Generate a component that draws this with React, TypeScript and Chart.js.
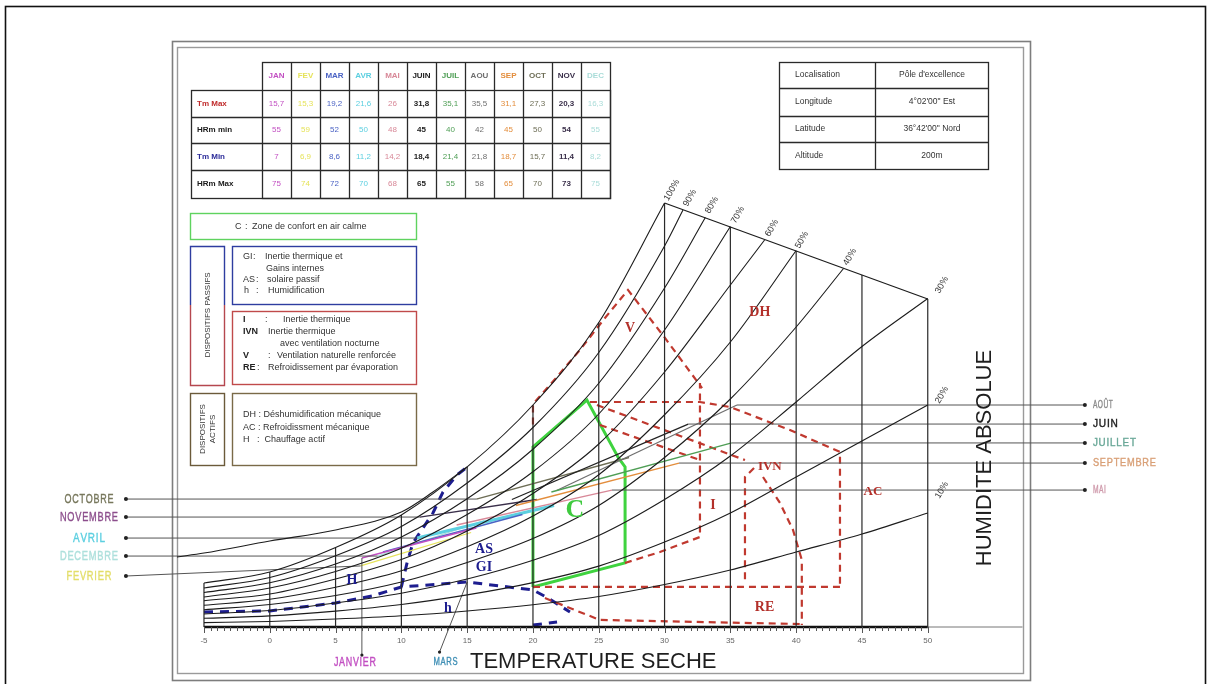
import React, { useEffect, useRef } from 'react';
import { Chart, registerables } from 'chart.js';

Chart.register(...registerables);

// ---------- axis / psychrometric grid ----------
const TEMP_TICKS = [-5, 0, 5, 10, 15, 20, 25, 30, 35, 40, 45, 50];
const CURVE_TEMPS = [-5, 0, 5, 10, 15, 20, 25, 30, 35, 40, 45, 50];
const RH_LABELS = ['100%', '90%', '80%', '70%', '60%', '50%', '40%', '30%', '20%', '10%'];
const RH_100 = [2.93, 3.67, 5.3, 7.47, 10.67, 14.8, 20.3, 28.27];
const RH_90 = [2.6, 3.3, 4.75, 6.7, 9.6, 13.3, 18.3, 25.4];
const RH_80 = [2.3, 2.95, 4.2, 6.0, 8.55, 11.85, 16.25, 22.6];
const RH_70 = [2.0, 2.6, 3.7, 5.25, 7.5, 10.35, 14.2, 19.8];
const RH_60 = [1.75, 2.2, 3.2, 4.5, 6.4, 8.9, 12.2, 17.0, 22.8];
const RH_50 = [1.45, 1.85, 2.65, 3.75, 5.35, 7.4, 10.15, 14.15, 19.0];
const RH_40 = [1.15, 1.5, 2.1, 3.0, 4.3, 5.9, 8.1, 11.3, 15.2, 20.0];
const RH_30 = [0.87, 1.1, 1.6, 2.25, 3.2, 4.45, 6.1, 8.5, 11.4, 15.0, 18.7, 21.9];
const RH_20 = [0.58, 0.74, 1.06, 1.5, 2.14, 2.96, 4.06, 5.66, 7.6, 10.0, 12.4, 14.8];
const RH_10 = [0.29, 0.37, 0.53, 0.75, 1.07, 1.48, 2.03, 2.83, 3.8, 5.0, 6.2, 7.6];
const RH_END_T = [NaN, 31.4, 33.1, 35.0, 37.6, 40.0, 43.6, NaN, NaN, NaN];
const RH_END_W = [NaN, 27.8, 27.3, 26.7, 25.8, 25.1, 23.9, NaN, NaN, NaN];
// outer curve entering from the left frame and joining the saturation curve
const OUTER_T = [-7.05, -5, 0, 5, 10, 12.4, 15];
const OUTER_W = [4.67, 4.93, 5.73, 6.47, 7.67, 9.0, 10.67];
const TOP_T = [30, 50];
const TOP_W = [28.27, 21.87];
const GRID_TOP_W = [2.93, 3.67, 5.3, 7.47, 10.67, 14.8, 20.3, 28.27, 26.67, 25.07, 23.47, 21.87];
const RH_LABEL_T = [30.56, 31.93, 33.6, 35.57, 38.15, 40.43, 44.08, 51.08, 51.08, 51.08];
const RH_LABEL_W = [29.13, 28.6, 28.13, 27.47, 26.6, 25.8, 24.67, 22.8, 15.47, 9.13];

// ---------- climate table ----------
const MONTHS = ['JAN', 'FEV', 'MAR', 'AVR', 'MAI', 'JUIN', 'JUIL', 'AOU', 'SEP', 'OCT', 'NOV', 'DEC'];
const MONTH_NAMES = ['JANVIER', 'FEVRIER', 'MARS', 'AVRIL', 'MAI', 'JUIN', 'JUILLET', 'AOÛT', 'SEPTEMBRE', 'OCTOBRE', 'NOVEMBRE', 'DECEMBRE'];
const MONTH_COLORS = ['#c24fc2', '#e6e35a', '#4b63c4', '#5ccfe0', '#d88898', '#222222', '#4f9e55', '#6f6f6f', '#e38d3c', '#6d6d55', '#3a2f4a', '#a9dcd8'];
const LABEL_COLORS = ['#c24fc2', '#e3de6a', '#3f8fb5', '#5ccfe0', '#cf9aab', '#1c1c1c', '#6aa898', '#8a8a8a', '#d9a077', '#77775c', '#8d4f8d', '#aee0dc'];
const TM_MAX = [15.7, 15.3, 19.2, 21.6, 26, 31.8, 35.1, 35.5, 31.1, 27.3, 20.3, 16.3];
const HR_MIN = [55, 59, 52, 50, 48, 45, 40, 42, 45, 50, 54, 55];
const TM_MIN = [7, 6.9, 8.6, 11.2, 14.2, 18.4, 21.4, 21.8, 18.7, 15.7, 11.4, 8.2];
const HR_MAX = [75, 74, 72, 70, 68, 65, 55, 58, 65, 70, 73, 75];
// absolute humidity read at the two ends of every month segment
const W_START = [4.6, 4.07, 5.0, 5.93, 6.8, 8.5, 9.0, 9.1, 8.1, 8.53, 7.33, 4.73];
const W_END = [6.6, 6.3, 7.5, 8.1, 9.13, 13.53, 12.27, 14.8, 10.93, 11.3, 8.5, 7.1];
// humidity level of the label dots on the left side
const LEFT_DOT_W = [NaN, 3.4, NaN, 5.93, NaN, NaN, NaN, NaN, NaN, 8.53, 7.33, 4.73];
const LABEL_SIDE = ['bottom', 'left', 'bottom', 'left', 'right', 'right', 'right', 'right', 'right', 'left', 'left', 'left'];
const LEFT_DOT_T = -10.93;
const RIGHT_DOT_T = 61.94;
const JAN_DOT_W = -1.87;
const MARS_LINE_T = [12.9, 15.0];
const MARS_LINE_W = [-1.67, 3.0];

// ---------- zones ----------
const COMFORT_T = [20, 20, 24.1, 26.5, 27.0, 27.0, 20];
const COMFORT_W = [2.67, 12.0, 15.13, 11.27, 10.67, 4.27, 2.67];
const V_T = [20, 20, 21.75, 23.57, 25.47, 27.22, 28.51, 30.03, 31.55, 32.85];
const V_W = [13.5, 14.87, 16.6, 18.47, 20.6, 22.47, 21.0, 19.27, 17.47, 15.93];
const I_T = [26.99, 29.65, 32.69, 32.69];
const I_W = [4.27, 5.0, 6.0, 16.27];
const AC_T = [24.33, 32.69, 34.97, 39.53, 43.33, 43.33];
const AC_W = [15.0, 15.0, 14.67, 13.13, 11.67, 2.67];
const ACB_T = [20, 43.33];
const ACB_W = [2.67, 2.67];
const IVN_T = [24.86, 36.11];
const IVN_W = [14.8, 11.13];
const IVN2_T = [25.09, 32.69];
const IVN2_W = [13.47, 11.13];
const IVNR_T = [36.8, 36.11, 36.11];
const IVNR_W = [10.6, 10.0, 2.93];
const RE_T = [37.48, 38.77, 39.76, 40.43, 40.43];
const RE_W = [10.0, 8.27, 6.47, 4.47, 0.13];
const REB_T = [20.91, 23.19, 25.09, 40.27];
const REB_W = [1.93, 1.13, 0.47, 0.2];
const H_T = [-5, 0, 5, 7.77, 10, 15, 20, 21.14, 22.81];
const H_W = [1.0, 1.07, 1.6, 2.07, 2.67, 3.0, 2.47, 1.93, 1.0];
const AS_T = [10, 10.43, 10.88, 12.4, 13.16, 14.22, 14.9];
const AS_W = [2.67, 4.27, 5.6, 7.6, 9.0, 10.13, 10.6];
const HB_T = [20, 21.83];
const HB_W = [0.13, 0.33];

const ZONE_LABELS = ['C', 'DH', 'V', 'IVN', 'AC', 'I', 'RE', 'H', 'AS', 'GI', 'h'];
const ZONE_LABEL_T = [23.19, 37.24, 27.37, 38.0, 45.83, 33.67, 37.6, 6.24, 16.28, 16.28, 13.54];
const ZONE_LABEL_W = [7.8, 21.0, 19.93, 10.67, 9.0, 8.13, 1.33, 3.13, 5.2, 4.0, 1.27];

const RED = '#c0392f';
const BLUE = '#1d1d8f';
const SANS = '"Liberation Sans", Arial, sans-serif';
const SERIF = '"Liberation Serif", "Times New Roman", serif';

const zip = (ts: number[], ws: number[]) => ts.map((t, i) => ({ x: t, y: ws[i] }));

function txt(ctx: any, s: string, x: number, y: number, font: string, color: string, align = 'left') {
  ctx.font = font;
  ctx.fillStyle = color;
  ctx.textAlign = align;
  ctx.textBaseline = 'middle';
  ctx.fillText(s, x, y);
}

function condensed(ctx: any, s: string, x: number, y: number, size: number, width: number, color: string, align: string) {
  ctx.save();
  ctx.font = `${size}px ${SANS}`;
  const spaced = s.split('').join('\u200A');
  const m = ctx.measureText(spaced).width;
  ctx.translate(x, y);
  ctx.scale(width / m, 1);
  ctx.fillStyle = color;
  ctx.strokeStyle = color;
  ctx.lineWidth = 0.4;
  ctx.textAlign = align;
  ctx.textBaseline = 'middle';
  ctx.fillText(spaced, 0, 0);
  ctx.strokeText(spaced, 0, 0);
  ctx.restore();
}

const decor = {
  id: 'decor',
  beforeDraw(chart: any) {
    const ctx = chart.ctx;
    ctx.save();
    ctx.fillStyle = '#ffffff';
    ctx.fillRect(0, 0, chart.width, chart.height);
    ctx.strokeStyle = '#111';
    ctx.lineWidth = 1.6;
    ctx.strokeRect(5.5, 6.5, 1200, 700);
    ctx.strokeStyle = '#7d7d7d';
    ctx.lineWidth = 1.6;
    ctx.strokeRect(172.5, 41.5, 858, 639);
    ctx.strokeStyle = '#9a9a9a';
    ctx.lineWidth = 1.4;
    ctx.strokeRect(177.5, 47.5, 846, 626);
    ctx.restore();
  },
  afterDatasetsDraw(chart: any) {
    const ctx = chart.ctx;
    const xs = chart.scales.x;
    const ys = chart.scales.y;
    const P = (t: number, w: number) => [xs.getPixelForValue(t), ys.getPixelForValue(w)];
    ctx.save();

    // ticks of the temperature ruler
    const [, y0] = P(0, 0);
    ctx.strokeStyle = '#555';
    ctx.lineWidth = 1;
    for (let t = -5; t <= 50.001; t += 0.5) {
      const [x] = P(t, 0);
      const major = Math.abs(t % 5) < 0.01;
      ctx.beginPath();
      ctx.moveTo(Math.round(x) + 0.5, y0);
      ctx.lineTo(Math.round(x) + 0.5, y0 + (major ? 6 : 4));
      ctx.stroke();
    }
    TEMP_TICKS.forEach((t) => {
      const [x, y] = P(t, -0.95);
      txt(ctx, String(t), x, y, `8px ${SANS}`, '#666', 'center');
    });

    // RH labels
    RH_LABELS.forEach((s, i) => {
      const [x, y] = P(RH_LABEL_T[i], RH_LABEL_W[i]);
      ctx.save();
      ctx.translate(x, y);
      ctx.rotate(-Math.PI / 3);
      txt(ctx, s, 0, 0, `9px ${SANS}`, '#333', 'center');
      ctx.restore();
    });

    // zone labels
    ZONE_LABELS.forEach((s, i) => {
      const [x, y] = P(ZONE_LABEL_T[i], ZONE_LABEL_W[i]);
      let font = `bold 14px ${SERIF}`;
      let color = '#b3302a';
      if (s === 'C') { font = `bold 26px ${SERIF}`; color = '#3fca3f'; }
      if (s === 'IVN' || s === 'AC') font = `bold 13px ${SERIF}`;
      if (['H', 'AS', 'GI', 'h'].includes(s)) { color = '#1d1d8f'; font = `bold 14px ${SERIF}`; }
      txt(ctx, s, x, y, font, color, 'center');
    });

    // month labels and dots
    const widths: any = { JANVIER: 42, FEVRIER: 45, MARS: 24, AVRIL: 32, MAI: 13, JUIN: 25, JUILLET: 43, 'AOÛT': 20, SEPTEMBRE: 63, OCTOBRE: 49, NOVEMBRE: 58, DECEMBRE: 58 };
    MONTH_NAMES.forEach((name, i) => {
      const side = LABEL_SIDE[i];
      const col = LABEL_COLORS[i];
      ctx.fillStyle = '#222';
      if (side === 'left') {
        const [x, y] = P(LEFT_DOT_T, LEFT_DOT_W[i]);
        ctx.beginPath(); ctx.arc(x, y, 2, 0, Math.PI * 2); ctx.fill();
        condensed(ctx, name, x - 37, y, 13, widths[name], col, 'center');
      } else if (side === 'right') {
        const [x, y] = P(RIGHT_DOT_T, W_END[i]);
        ctx.beginPath(); ctx.arc(x, y, 2, 0, Math.PI * 2); ctx.fill();
        condensed(ctx, name, x + 8, y, 11, widths[name], col, 'left');
      }
    });
    {
      const [x, y] = P(TM_MIN[0], JAN_DOT_W);
      ctx.fillStyle = '#222';
      ctx.beginPath(); ctx.arc(x, y, 1.6, 0, Math.PI * 2); ctx.fill();
      condensed(ctx, 'JANVIER', x - 7, y + 8, 12, 42, LABEL_COLORS[0], 'center');
      const [mx, my] = P(MARS_LINE_T[0], MARS_LINE_W[0]);
      ctx.fillStyle = '#222';
      ctx.beginPath(); ctx.arc(mx, my, 1.6, 0, Math.PI * 2); ctx.fill();
      condensed(ctx, 'MARS', mx + 6, my + 10, 11, 24, LABEL_COLORS[2], 'center');
    }

    // axis titles
    txt(ctx, 'TEMPERATURE SECHE', 470, 662, `22px ${SANS}`, '#1e1e1e', 'left');
    ctx.save();
    ctx.translate(985, 458);
    ctx.rotate(-Math.PI / 2);
    txt(ctx, 'HUMIDITE ABSOLUE', 0, 0, `22px ${SANS}`, '#1e1e1e', 'center');
    ctx.restore();

    // ---- climate table ----
    const colX0 = 262, colW = 29, rowY = [62, 90, 117, 143, 170, 198];
    ctx.strokeStyle = '#2a2a2a';
    ctx.lineWidth = 1.3;
    ctx.strokeRect(colX0 + 0.5, rowY[0] + 0.5, colW * 12, rowY[5] - rowY[0]);
    ctx.strokeRect(191.5, rowY[1] + 0.5, colX0 + colW * 12 - 191, rowY[5] - rowY[1]);
    for (let c = 1; c < 12; c++) {
      const x = colX0 + c * colW + 0.5;
      ctx.beginPath(); ctx.moveTo(x, rowY[0]); ctx.lineTo(x, rowY[5]); ctx.stroke();
    }
    for (let r = 2; r < 5; r++) {
      ctx.beginPath(); ctx.moveTo(191, rowY[r] + 0.5); ctx.lineTo(colX0 + colW * 12, rowY[r] + 0.5); ctx.stroke();
    }
    const rowNames = ['Tm Max', 'HRm min', 'Tm Min', 'HRm Max'];
    const rowCols = ['#c02b2b', '#1a1a1a', '#2b2b99', '#1a1a1a'];
    const rows = [TM_MAX, HR_MIN, TM_MIN, HR_MAX];
    MONTHS.forEach((m, c) => {
      const cx = colX0 + c * colW + colW / 2;
      txt(ctx, m, cx, (rowY[0] + rowY[1]) / 2, `bold 8px ${SANS}`, MONTH_COLORS[c], 'center');
      rows.forEach((arr, r) => {
        const v = String(arr[c]).replace('.', ',');
        const bold = c === 5 || c === 10 ? 'bold ' : '';
        txt(ctx, v, cx, (rowY[r + 1] + rowY[r + 2]) / 2, `${bold}8px ${SANS}`, MONTH_COLORS[c], 'center');
      });
    });
    rowNames.forEach((s, r) => {
      txt(ctx, s, 197, (rowY[r + 1] + rowY[r + 2]) / 2, `bold 8px ${SANS}`, rowCols[r], 'left');
    });

    // ---- site table ----
    ctx.strokeStyle = '#2a2a2a';
    ctx.lineWidth = 1.3;
    ctx.strokeRect(779.5, 62.5, 209, 107);
    ctx.beginPath(); ctx.moveTo(875.5, 62); ctx.lineTo(875.5, 169); ctx.stroke();
    [88, 116, 142].forEach((y) => { ctx.beginPath(); ctx.moveTo(779, y + 0.5); ctx.lineTo(988, y + 0.5); ctx.stroke(); });
    const siteL = ['Localisation', 'Longitude', 'Latitude', 'Altitude'];
    const siteR = ['Pôle d\'excellence', '4°02\'00" Est', '36°42\'00" Nord', '200m'];
    const siteY = [75, 102, 129, 156];
    siteL.forEach((s, i) => {
      txt(ctx, s, 795, siteY[i], `8.5px ${SANS}`, '#333', 'left');
      txt(ctx, siteR[i], 932, siteY[i], `8.5px ${SANS}`, '#333', 'center');
    });

    // ---- legend boxes ----
    ctx.lineWidth = 1.4;
    ctx.strokeStyle = '#5fd35f';
    ctx.strokeRect(190.5, 213.5, 226, 26);
    txt(ctx, 'C', 235, 227, `9px ${SANS}`, '#333', 'left');
    txt(ctx, ':', 245, 227, `9px ${SANS}`, '#333', 'left');
    txt(ctx, 'Zone de confort en air calme', 252, 227, `9px ${SANS}`, '#333', 'left');

    ctx.strokeStyle = '#2e3da0';
    ctx.beginPath(); ctx.moveTo(190.5, 305); ctx.lineTo(190.5, 246.5); ctx.lineTo(224.5, 246.5); ctx.lineTo(224.5, 305); ctx.stroke();
    ctx.strokeStyle = '#b5474f';
    ctx.beginPath(); ctx.moveTo(190.5, 305); ctx.lineTo(190.5, 385.5); ctx.lineTo(224.5, 385.5); ctx.lineTo(224.5, 305); ctx.stroke();
    ctx.save();
    ctx.translate(208, 315);
    ctx.rotate(-Math.PI / 2);
    txt(ctx, 'DISPOSITIFS PASSIFS', 0, 0, `8px ${SANS}`, '#333', 'center');
    ctx.restore();

    ctx.strokeStyle = '#2e3da0';
    ctx.strokeRect(232.5, 246.5, 184, 58);
    const f9 = `9px ${SANS}`;
    txt(ctx, 'GI', 243, 257, f9, '#333'); txt(ctx, ':', 253, 257, f9, '#333'); txt(ctx, 'Inertie thermique et', 265, 257, f9, '#333');
    txt(ctx, 'Gains internes', 266, 269, f9, '#333');
    txt(ctx, 'AS', 243, 280, f9, '#333'); txt(ctx, ':', 256, 280, f9, '#333'); txt(ctx, 'solaire passif', 267, 280, f9, '#333');
    txt(ctx, 'h', 244, 291, f9, '#333'); txt(ctx, ':', 256, 291, f9, '#333'); txt(ctx, 'Humidification', 268, 291, f9, '#333');

    ctx.strokeStyle = '#c04a4a';
    ctx.strokeRect(232.5, 311.5, 184, 73);
    const b9 = `bold 9px ${SANS}`;
    txt(ctx, 'I', 243, 320, b9, '#222'); txt(ctx, ':', 265, 320, f9, '#333'); txt(ctx, 'Inertie thermique', 283, 320, f9, '#333');
    txt(ctx, 'IVN', 243, 332, b9, '#222'); txt(ctx, 'Inertie thermique', 268, 332, f9, '#333');
    txt(ctx, 'avec ventilation nocturne', 280, 344, f9, '#333');
    txt(ctx, 'V', 243, 356, b9, '#222'); txt(ctx, ':', 268, 356, f9, '#333'); txt(ctx, 'Ventilation naturelle renforcée', 277, 356, f9, '#333');
    txt(ctx, 'RE', 243, 368, b9, '#222'); txt(ctx, ':', 257, 368, f9, '#333'); txt(ctx, 'Refroidissement par évaporation', 268, 368, f9, '#333');

    ctx.strokeStyle = '#6b5a3a';
    ctx.strokeRect(190.5, 393.5, 34, 72);
    ctx.save();
    ctx.translate(203, 429);
    ctx.rotate(-Math.PI / 2);
    txt(ctx, 'DISPOSITIFS', 0, 0, `8px ${SANS}`, '#333', 'center');
    txt(ctx, 'ACTIFS', 0, 10, `8px ${SANS}`, '#333', 'center');
    ctx.restore();
    ctx.strokeStyle = '#7a6a48';
    ctx.strokeRect(232.5, 393.5, 184, 72);
    txt(ctx, 'DH : Déshumidification mécanique', 243, 415, f9, '#333');
    txt(ctx, 'AC : Refroidissment mécanique', 243, 428, f9, '#333');
    txt(ctx, 'H   :  Chauffage actif', 243, 440, f9, '#333');

    ctx.restore();
  },
};

export default function App() {
  const ref = useRef<HTMLCanvasElement | null>(null);
  useEffect(() => {
    document.body.style.margin = '0';
    const canvas = ref.current;
    if (!canvas) return;

    const rhArrays = [RH_100, RH_90, RH_80, RH_70, RH_60, RH_50, RH_40, RH_30, RH_20, RH_10];
    const datasets: any[] = [];
    const base = { pointRadius: 0, fill: false, clip: false, spanGaps: false, tension: 0 };

    rhArrays.forEach((arr, i) => {
      const pts = arr.map((w, k) => ({ x: CURVE_TEMPS[k], y: w }));
      if (!isNaN(RH_END_T[i])) pts.push({ x: RH_END_T[i], y: RH_END_W[i] });
      datasets.push({ ...base, label: RH_LABELS[i], data: pts, borderColor: '#1c1c1c', borderWidth: 1.1, cubicInterpolationMode: 'monotone' });
    });
    datasets.push({ ...base, label: 'outer', data: zip(OUTER_T, OUTER_W), borderColor: '#1c1c1c', borderWidth: 1.1, cubicInterpolationMode: 'monotone' });
    datasets.push({ ...base, label: 'top', data: zip(TOP_T, TOP_W), borderColor: '#1c1c1c', borderWidth: 1.2 });
    const vpts: any[] = [];
    TEMP_TICKS.forEach((t, i) => { vpts.push({ x: t, y: 0 }, { x: t, y: GRID_TOP_W[i] }, { x: t, y: null }); });
    datasets.push({ ...base, label: 'iso', data: vpts, borderColor: '#2a2a2a', borderWidth: 1.2 });
    datasets.push({ ...base, label: 'base', data: [{ x: -5, y: 0 }, { x: 50, y: 0 }], borderColor: '#111', borderWidth: 2.6 });
    datasets.push({ ...base, label: 'base2', data: [{ x: 50, y: 0 }, { x: 57.2, y: 0 }], borderColor: '#777', borderWidth: 1 });

    MONTHS.forEach((m, i) => {
      const side = LABEL_SIDE[i];
      let pts: any[] = [];
      if (side === 'left') pts = [{ x: LEFT_DOT_T, y: LEFT_DOT_W[i] }, { x: TM_MIN[i], y: W_START[i] }];
      if (side === 'right') pts = [{ x: TM_MAX[i], y: W_END[i] }, { x: RIGHT_DOT_T, y: W_END[i] }];
      if (i === 0) pts = [{ x: TM_MIN[0], y: JAN_DOT_W }, { x: TM_MIN[0], y: W_START[0] }];
      if (i === 2) pts = zip(MARS_LINE_T, MARS_LINE_W);
      datasets.push({ ...base, label: 'c' + m, data: pts, borderColor: '#555', borderWidth: 1 });
    });
    MONTHS.forEach((m, i) => {
      datasets.push({ ...base, label: m, data: [{ x: TM_MIN[i], y: W_START[i] }, { x: TM_MAX[i], y: W_END[i] }], borderColor: MONTH_COLORS[i], borderWidth: i === 3 ? 3 : 1.3 });
    });

    const red = { ...base, borderColor: RED, borderWidth: 2.2, borderDash: [7, 5] };
    [[V_T, V_W], [I_T, I_W], [AC_T, AC_W], [ACB_T, ACB_W], [IVN_T, IVN_W], [IVN2_T, IVN2_W], [IVNR_T, IVNR_W], [RE_T, RE_W], [REB_T, REB_W]].forEach((p, k) => {
      datasets.push({ ...red, label: 'red' + k, data: zip(p[0], p[1]) });
    });
    const blue = { ...base, borderColor: BLUE, borderWidth: 3, borderDash: [9, 7] };
    [[H_T, H_W], [AS_T, AS_W], [HB_T, HB_W]].forEach((p, k) => {
      datasets.push({ ...blue, label: 'blue' + k, data: zip(p[0], p[1]) });
    });
    datasets.push({ ...base, label: 'C', data: zip(COMFORT_T, COMFORT_W), borderColor: '#3fd33f', borderWidth: 3 });

    const chart = new Chart(canvas, {
      type: 'line',
      data: { datasets },
      options: {
        animation: false,
        responsive: false,
        devicePixelRatio: 1,
        events: [],
        layout: { padding: 0 },
        scales: {
          x: { type: 'linear', min: -20.5, max: 71.6, display: false },
          y: { type: 'linear', min: -3.8, max: 41.8, display: false },
        },
        plugins: { legend: { display: false }, tooltip: { enabled: false } },
      },
      plugins: [decor],
    } as any);
    return () => chart.destroy();
  }, []);

  return (
    <div style={{ position: 'fixed', left: 0, top: 0, width: 1212, height: 684, background: '#fff' }}>
      <canvas ref={ref} width={1212} height={684} style={{ display: 'block', width: 1212, height: 684 }} />
    </div>
  );
}
